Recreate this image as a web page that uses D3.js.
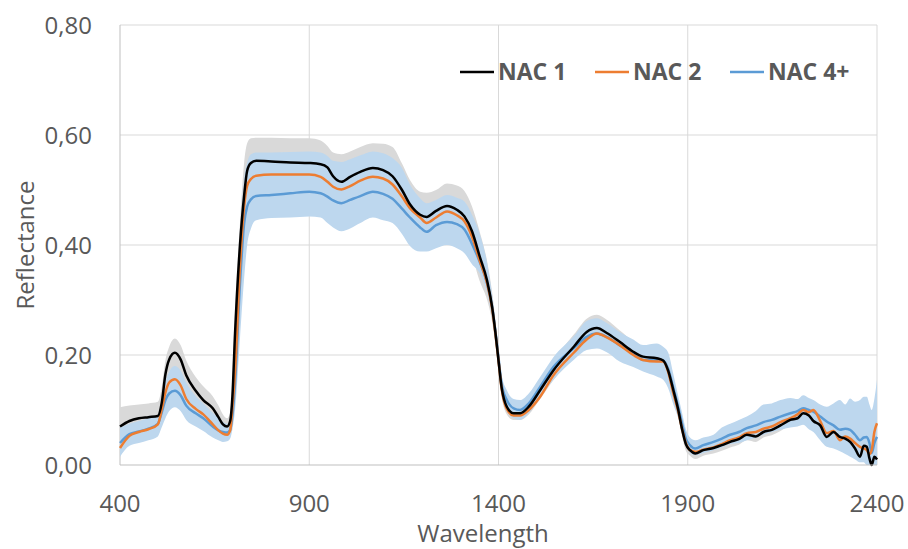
<!DOCTYPE html>
<html>
<head>
<meta charset="utf-8">
<script src="https://cdn.jsdelivr.net/npm/d3@7"></script>
<style>
  body { margin: 0; background: #fff; }
  text { font-family: "Open Sans", sans-serif; fill: #595959; }
</style>
</head>
<body>
<svg id="chart" width="908" height="549"></svg>
<script>
// wavelength grid (nm)
var wavelength = [
  400, 425, 450, 475, 500, 510, 520, 530, 545, 560,
  575, 600, 620, 645, 660, 672, 683, 691, 697, 704,
  717, 728, 736, 746, 760, 800, 850, 900, 930, 948,
  963, 985, 1008, 1035, 1068, 1095, 1120, 1145, 1166, 1193,
  1210, 1235, 1264, 1290, 1310, 1330, 1350, 1370, 1383, 1392,
  1400, 1408, 1422, 1440, 1457, 1480, 1510, 1545, 1600, 1633,
  1660, 1686, 1720, 1756, 1782, 1818, 1835, 1848, 1862, 1875,
  1885, 1895, 1906, 1920, 1941, 1968, 1990, 2012, 2035, 2056,
  2080, 2100, 2122, 2145, 2171, 2190, 2205, 2220, 2232, 2250,
  2267, 2285, 2302, 2316, 2329, 2342, 2355, 2365, 2373, 2380,
  2386, 2393, 2400
];

var nac1 = [
  .070, .080, .085, .087, .089, .112, .165, .192, .204, .192,
  .163, .135, .118, .103, .087, .074, .070, .080, .125, .240,
  .400, .490, .535, .549, .553, .552, .550, .549, .547, .541,
  .525, .515, .524, .533, .540, .536, .525, .500, .474, .455,
  .451, .462, .471, .464, .452, .425, .380, .335, .288, .240,
  .190, .142, .106, .094, .094, .106, .136, .172, .216, .242,
  .249, .240, .224, .206, .197, .194, .190, .172, .136, .100,
  .065, .038, .027, .021, .027, .031, .036, .042, .047, .055,
  .052, .060, .064, .072, .082, .085, .094, .090, .080, .072,
  .051, .060, .051, .048, .042, .030, .015, .035, .033, .012,
  .000, .015, .010
];

var nac2 = [
  .031, .053, .060, .065, .074, .100, .132, .150, .156, .145,
  .120, .102, .092, .074, .063, .057, .055, .063, .105, .170,
  .360, .470, .508, .520, .526, .528, .528, .528, .524, .515,
  .506, .501, .507, .517, .524, .521, .510, .488, .467, .450,
  .440, .450, .461, .454, .443, .415, .372, .330, .285, .238,
  .190, .140, .102, .090, .090, .100, .124, .163, .205, .228,
  .239, .232, .218, .200, .191, .188, .188, .170, .130, .097,
  .066, .040, .027, .024, .028, .032, .038, .045, .050, .058,
  .060, .066, .070, .078, .085, .092, .100, .096, .100, .080,
  .058, .062, .045, .052, .048, .040, .033, .030, .027, .020,
  .027, .060, .076
];

var nac4 = [
  .040, .056, .061, .066, .075, .095, .118, .130, .135, .127,
  .108, .094, .085, .070, .063, .060, .059, .064, .090, .150,
  .330, .440, .470, .483, .489, .491, .494, .497, .494, .488,
  .481, .476, .482, .489, .497, .493, .484, .466, .450, .432,
  .424, .436, .442, .438, .428, .402, .370, .330, .288, .242,
  .195, .148, .118, .103, .100, .112, .142, .178, .213, .233,
  .239, .233, .218, .203, .191, .191, .190, .175, .140, .105,
  .075, .048, .036, .030, .036, .042, .048, .055, .060, .067,
  .072, .078, .082, .088, .094, .098, .103, .100, .097, .088,
  .079, .072, .064, .066, .064, .055, .045, .050, .051, .040,
  .022, .040, .051
];

// spread bands (grey = NAC 1, light blue = NAC 4+)
var nac1Hi = [
  .105, .108, .110, .112, .115, .140, .190, .215, .230, .218,
  .190, .160, .143, .125, .108, .092, .085, .095, .150, .280,
  .440, .550, .585, .594, .595, .595, .594, .594, .590, .580,
  .568, .565, .570, .578, .585, .584, .578, .548, .518, .497,
  .495, .500, .512, .508, .498, .470, .425, .370, .315, .262,
  .208, .158, .120, .106, .106, .120, .152, .190, .238, .266,
  .273, .264, .245, .225, .215, .210, .206, .190, .152, .115,
  .078, .050, .037, .031, .037, .041, .046, .052, .057, .065,
  .062, .070, .074, .082, .092, .095, .104, .100, .090, .082,
  .061, .070, .061, .058, .052, .040, .025, .045, .043, .022,
  .010, .025, .020
];
var nac1Lo = [
  .035, .052, .060, .062, .063, .084, .140, .169, .178, .166,
  .136, .110, .093, .081, .066, .056, .055, .065, .100, .200,
  .360, .430, .485, .504, .511, .509, .506, .504, .504, .502,
  .482, .465, .478, .488, .495, .488, .472, .452, .430, .413,
  .407, .424, .430, .420, .406, .380, .335, .300, .261, .218,
  .172, .126, .092, .082, .082, .092, .120, .154, .194, .218,
  .225, .216, .203, .187, .179, .178, .174, .154, .120, .085,
  .052, .026, .017, .011, .017, .021, .026, .032, .037, .045,
  .042, .050, .054, .062, .072, .075, .084, .080, .070, .062,
  .041, .050, .041, .038, .032, .020, .005, .025, .023, .002,
  .000, .005, .000
];
var nac4Hi = [
  .068, .075, .080, .085, .092, .115, .150, .170, .180, .172,
  .150, .125, .112, .095, .085, .078, .075, .082, .120, .200,
  .400, .520, .550, .565, .568, .568, .569, .570, .568, .562,
  .553, .551, .556, .563, .570, .567, .558, .540, .510, .485,
  .476, .482, .491, .486, .479, .455, .421, .367, .310, .260,
  .212, .165, .136, .120, .118, .130, .160, .196, .235, .262,
  .267, .258, .242, .228, .218, .221, .215, .205, .165, .125,
  .095, .065, .050, .045, .050, .055, .068, .075, .082, .088,
  .098, .110, .112, .118, .122, .120, .127, .122, .118, .110,
  .106, .112, .118, .110, .121, .115, .118, .124, .124, .110,
  .100, .120, .155
];
var nac4Lo = [
  .015, .035, .040, .045, .052, .068, .085, .098, .105, .098,
  .082, .070, .062, .050, .045, .042, .043, .048, .065, .100,
  .230, .340, .400, .430, .445, .449, .450, .452, .450, .440,
  .432, .425, .430, .440, .450, .445, .440, .420, .398, .388,
  .388, .394, .400, .394, .385, .365, .349, .313, .268, .225,
  .178, .132, .100, .085, .082, .094, .124, .155, .192, .209,
  .212, .205, .188, .178, .170, .161, .155, .140, .110, .085,
  .060, .035, .022, .018, .022, .027, .032, .038, .040, .045,
  .050, .055, .060, .064, .068, .070, .073, .065, .060, .045,
  .033, .030, .025, .020, .015, .010, .005, .005, .000, .000,
  .000, .000, .000
];

var xTicks = [400, 900, 1400, 1900, 2400];
var yTicks = [0, 0.2, 0.4, 0.6, 0.8];
var seriesNames = ["NAC 1", "NAC 2", "NAC 4+"];
var seriesColors = ["#000000", "#ED7D31", "#5B9BD5"];

var svg = d3.select("#chart");
var margin = {left: 120, right: 31, top: 25, bottom: 84};
var W = 908, H = 549;

var x = d3.scaleLinear().domain([400, 2400]).range([margin.left, W - margin.right]);
var y = d3.scaleLinear().domain([0, 0.8]).range([H - margin.bottom, margin.top]);

var fmt = function(v) { return d3.format(".2f")(v).replace(".", ","); };

// grid lines
svg.append("g").selectAll("line.h")
  .data(yTicks.filter(function(d) { return d > 0; }))
  .enter().append("line")
    .attr("x1", x(400)).attr("x2", x(2400))
    .attr("y1", function(d) { return y(d); }).attr("y2", function(d) { return y(d); })
    .style("stroke", "#d9d9d9").style("stroke-width", 1);

svg.append("g").selectAll("line.v")
  .data(xTicks)
  .enter().append("line")
    .attr("x1", function(d) { return x(d); }).attr("x2", function(d) { return x(d); })
    .attr("y1", y(0)).attr("y2", y(0.8))
    .style("stroke", function(d) { return d === 400 ? "#bfbfbf" : "#d9d9d9"; })
    .style("stroke-width", 1);

// bands
function band(hi, lo) {
  return d3.area()
    .curve(d3.curveMonotoneX)
    .x(function(d, i) { return x(wavelength[i]); })
    .y0(function(d, i) { return y(lo[i]); })
    .y1(function(d, i) { return y(hi[i]); });
}

svg.append("path").datum(wavelength)
  .attr("d", band(nac1Hi, nac1Lo))
  .style("fill", "#d9d9d9");

svg.append("path").datum(wavelength)
  .attr("d", band(nac4Hi, nac4Lo))
  .style("fill", "#bdd7ee");

// mean lines
var line = function(vals) {
  return d3.line()
    .curve(d3.curveMonotoneX)
    .x(function(d, i) { return x(wavelength[i]); })
    .y(function(d, i) { return y(vals[i]); })(wavelength);
};

[nac4, nac2, nac1].forEach(function(vals, k) {
  svg.append("path")
    .attr("d", line(vals))
    .style("fill", "none")
    .style("stroke", seriesColors[2 - k])
    .style("stroke-width", 2.5)
    .style("stroke-linejoin", "round");
});

// bottom axis line
svg.append("line")
  .attr("x1", x(400)).attr("x2", x(2400))
  .attr("y1", y(0)).attr("y2", y(0))
  .style("stroke", "#bfbfbf").style("stroke-width", 1);

// tick labels
svg.append("g").selectAll("text")
  .data(yTicks)
  .enter().append("text")
    .attr("x", 92)
    .attr("y", function(d) { return y(d) + 8.5; })
    .attr("text-anchor", "end")
    .style("font-size", "24px")
    .text(fmt);

svg.append("g").selectAll("text")
  .data(xTicks)
  .enter().append("text")
    .attr("x", function(d) { return x(d); })
    .attr("y", 512)
    .attr("text-anchor", "middle")
    .style("font-size", "24px")
    .text(function(d) { return d; });

// axis titles
svg.append("text")
  .attr("x", 483).attr("y", 542)
  .attr("text-anchor", "middle")
  .style("font-size", "24px")
  .text("Wavelength");

svg.append("text")
  .attr("transform", "translate(34,245) rotate(-90)")
  .attr("text-anchor", "middle")
  .style("font-size", "24px")
  .text("Reflectance");

// legend
var legendX = [460, 595, 730];
var lg = svg.append("g").selectAll("g")
  .data(seriesNames)
  .enter().append("g");

lg.append("line")
  .attr("x1", function(d, i) { return legendX[i]; })
  .attr("x2", function(d, i) { return legendX[i] + 34; })
  .attr("y1", 72).attr("y2", 72)
  .style("stroke", function(d, i) { return seriesColors[i]; })
  .style("stroke-width", 2.5);

lg.append("text")
  .attr("x", function(d, i) { return legendX[i] + 38; })
  .attr("y", 80)
  .style("font-size", "23px")
  .style("font-weight", "bold")
  .text(function(d) { return d; });
</script>
</body>
</html>
